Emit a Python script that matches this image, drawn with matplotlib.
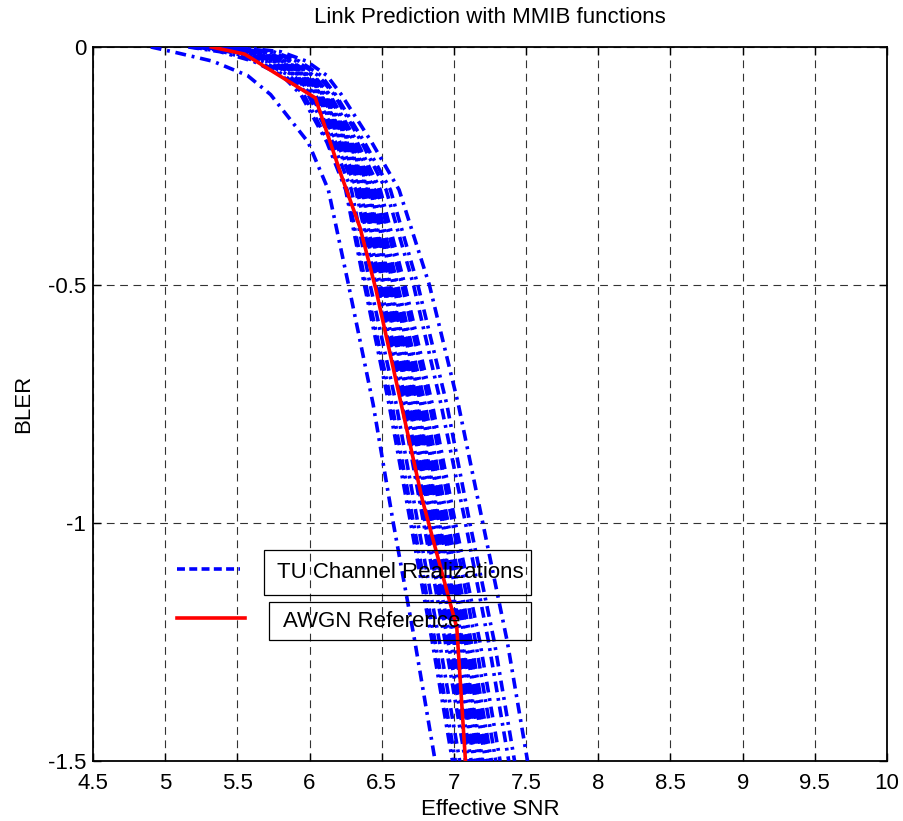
import numpy as np
import matplotlib
matplotlib.use('Agg')
import matplotlib.pyplot as plt
from matplotlib.ticker import FuncFormatter
from matplotlib.lines import Line2D
from matplotlib.patches import Rectangle

plt.rcParams['font.family'] = ['Liberation Sans', 'DejaVu Sans']
plt.rcParams['axes.unicode_minus'] = False

bler_levels = [0, -0.01, -0.03, -0.06, -0.1, -0.2, -0.3, -0.5, -0.75, -1.0, -1.25, -1.5]

# effective SNR of each TU channel realization at those levels
tu_snr = [
    [4.90, 5.05, 5.33, 5.57, 5.73, 5.99, 6.13, 6.27, 6.44, 6.58, 6.73, 6.87],
    [5.16, 5.38, 5.61, 5.81, 5.94, 6.12, 6.25, 6.38, 6.55, 6.70, 6.85, 6.99],
    [5.18, 5.40, 5.64, 5.83, 5.96, 6.13, 6.26, 6.39, 6.57, 6.72, 6.87, 7.01],
    [5.21, 5.44, 5.67, 5.86, 5.99, 6.16, 6.29, 6.42, 6.60, 6.75, 6.90, 7.04],
    [5.24, 5.48, 5.70, 5.89, 6.01, 6.18, 6.32, 6.46, 6.64, 6.79, 6.94, 7.08],
    [5.26, 5.50, 5.72, 5.90, 6.02, 6.19, 6.33, 6.47, 6.65, 6.80, 6.96, 7.10],
    [5.27, 5.52, 5.74, 5.91, 6.04, 6.21, 6.35, 6.49, 6.67, 6.82, 6.98, 7.12],
    [5.29, 5.54, 5.75, 5.93, 6.05, 6.22, 6.36, 6.51, 6.69, 6.84, 7.00, 7.14],
    [5.30, 5.55, 5.76, 5.94, 6.06, 6.23, 6.37, 6.52, 6.70, 6.85, 7.01, 7.15],
    [5.31, 5.57, 5.78, 5.95, 6.07, 6.24, 6.39, 6.53, 6.72, 6.87, 7.03, 7.17],
    [5.32, 5.58, 5.79, 5.96, 6.08, 6.25, 6.40, 6.55, 6.74, 6.89, 7.05, 7.19],
    [5.33, 5.59, 5.80, 5.97, 6.08, 6.26, 6.41, 6.56, 6.75, 6.90, 7.06, 7.20],
    [5.35, 5.61, 5.81, 5.98, 6.09, 6.27, 6.42, 6.58, 6.77, 6.92, 7.08, 7.22],
    [5.36, 5.62, 5.83, 5.99, 6.10, 6.28, 6.43, 6.60, 6.78, 6.94, 7.10, 7.24],
    [5.37, 5.64, 5.84, 6.00, 6.11, 6.29, 6.45, 6.61, 6.80, 6.96, 7.12, 7.26],
    [5.39, 5.66, 5.86, 6.02, 6.13, 6.31, 6.47, 6.64, 6.83, 6.99, 7.15, 7.29],
    [5.40, 5.68, 5.87, 6.03, 6.14, 6.33, 6.49, 6.66, 6.85, 7.01, 7.18, 7.32],
    [5.44, 5.72, 5.91, 6.06, 6.17, 6.36, 6.53, 6.72, 6.91, 7.08, 7.24, 7.38],
    [5.46, 5.75, 5.93, 6.08, 6.18, 6.38, 6.56, 6.75, 6.95, 7.11, 7.28, 7.42],
    [5.50, 5.80, 5.98, 6.12, 6.22, 6.43, 6.62, 6.83, 7.03, 7.20, 7.37, 7.51],
]

# AWGN reference curve
awgn_snr = [5.32, 5.55, 6.04, 6.22, 6.35, 6.46, 6.78, 7.02, 7.08]
awgn_bler = [0.0, -0.015, -0.107, -0.27, -0.38, -0.51, -0.95, -1.22, -1.5]

xticks = [4.5, 5, 5.5, 6, 6.5, 7, 7.5, 8, 8.5, 9, 9.5, 10]
yticks = [-1.5, -1, -0.5, 0]

fig = plt.figure(figsize=(9.04, 8.21), dpi=100)
ax = fig.add_axes([0.1029, 0.0731, 0.8783, 0.8697])

for snr in tu_snr:
    ax.plot(snr, bler_levels, color='blue', lw=2.6,
            linestyle=(0, (3, 1.6, 0.8, 1.6)), zorder=3)
ax.plot(awgn_snr, awgn_bler, color='red', lw=2.6, zorder=4)

ax.set_xlim(4.5, 10)
ax.set_ylim(-1.5, 0)
ax.set_xticks(xticks)
ax.set_yticks(yticks)
ax.xaxis.set_major_formatter(FuncFormatter(lambda v, p: '%g' % v))
ax.yaxis.set_major_formatter(FuncFormatter(lambda v, p: '%g' % v))
ax.tick_params(direction='in', length=6, width=1, top=True, right=True,
               labelsize=16)
ax.tick_params(axis='x', pad=9)
ax.tick_params(axis='y', pad=5)
ax.grid(True, color='0.2', lw=0.8, linestyle=(0, (7, 5)))
for s in ax.spines.values():
    s.set_linewidth(1.3)

ax.set_title('Link Prediction with MMIB functions', fontsize=16, pad=17)
ax.set_xlabel('Effective SNR', fontsize=16, labelpad=3)
ax.set_ylabel('BLER', fontsize=16, labelpad=10)

# MATLAB-style legend: boxes and line samples drawn separately
W, H = 904.0, 821.0
def fx(px):
    return px / W
def fy(py):
    return 1 - py / H

fig.add_artist(Rectangle((fx(264), fy(595)), fx(531) - fx(264), fy(550) - fy(595),
                         fill=False, ec='black', lw=0.9, zorder=10))
fig.add_artist(Rectangle((fx(269), fy(640)), fx(531) - fx(269), fy(602) - fy(640),
                         fill=False, ec='black', lw=0.9, zorder=10))
fig.add_artist(Line2D([fx(177), fx(240)], [fy(569), fy(569)], color='blue',
                      lw=2.6, linestyle=(0, (2.2, 1.2)), zorder=10))
fig.add_artist(Line2D([fx(177), fx(245)], [fy(618), fy(618)], color='red',
                      lw=2.6, zorder=10))
fig.text(fx(277), fy(572), 'TU Channel Realizations', fontsize=16,
         va='center', ha='left', zorder=11)
fig.text(fx(283), fy(621), 'AWGN Reference', fontsize=16,
         va='center', ha='left', zorder=11)

fig.savefig('out.png', dpi=100)
